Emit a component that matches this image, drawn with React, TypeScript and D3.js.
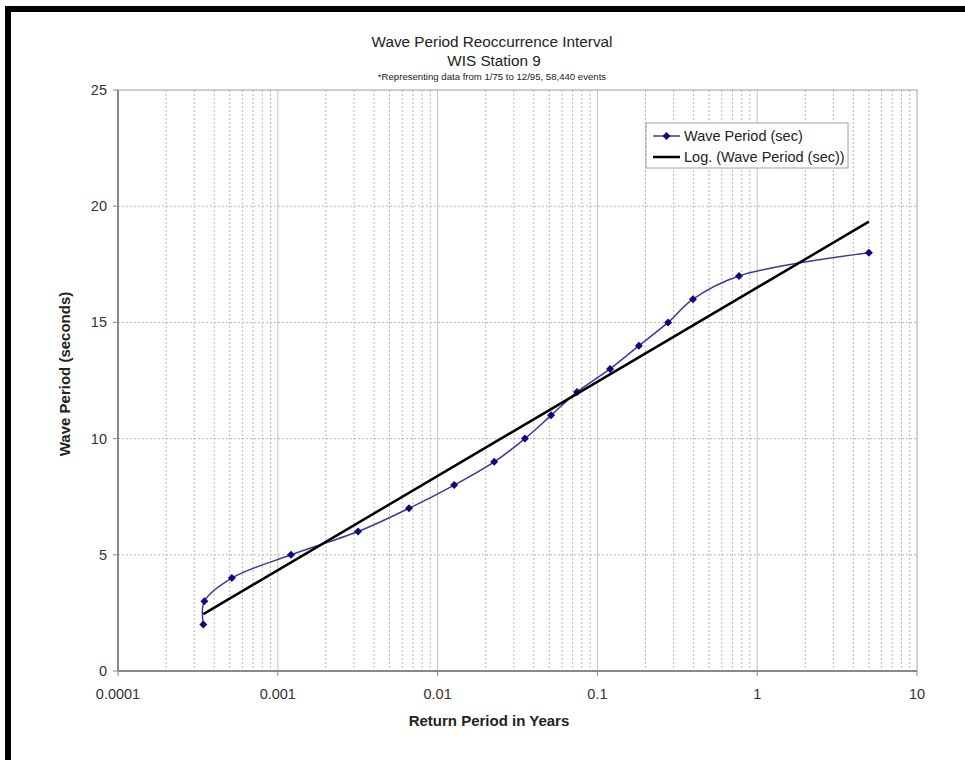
import React from "react";
import * as d3 from "d3";

const returnPeriods = [0.000342, 0.000347, 0.000516, 0.00121, 0.00318, 0.00662, 0.0127, 0.0226, 0.0352, 0.0513, 0.0745, 0.12, 0.182, 0.277, 0.396, 0.769, 5.0];
const wavePeriods = [2, 3, 4, 5, 6, 7, 8, 9, 10, 11, 12, 13, 14, 15, 16, 17, 18];
const xTickValues = [0.0001, 0.001, 0.01, 0.1, 1, 10];
const xTickLabels = ["0.0001", "0.001", "0.01", "0.1", "1", "10"];
const yTickValues = [0, 5, 10, 15, 20, 25];
const titleLines = ["Wave Period Reoccurrence Interval", "WIS Station 9"];
const subtitle = "*Representing data from 1/75 to 12/95, 58,440 events";
const seriesName = "Wave Period (sec)";
const trendName = "Log. (Wave Period (sec))";

const FONT = "'Liberation Sans', Arial, sans-serif";

export default function App() {
  const W = 965, H = 760;
  const x = d3.scaleLog().domain([1e-4, 10]).range([118, 917]);
  const y = d3.scaleLinear().domain([0, 25]).range([671, 90]);

  const minor: number[] = [];
  for (let e = -4; e < 1; e++) {
    for (let k = 2; k <= 9; k++) minor.push(k * Math.pow(10, e));
  }

  const pts = returnPeriods.map((r, i) => [x(r), y(wavePeriods[i])] as [number, number]);
  const line = d3.line().curve(d3.curveCatmullRom.alpha(0.5));
  const path = line(pts) || "";

  // logarithmic trendline regression
  const L = returnPeriods.map((r) => Math.log(r));
  const mL = d3.mean(L)!;
  const mY = d3.mean(wavePeriods)!;
  let sxy = 0, sxx = 0;
  L.forEach((l, i) => { sxy += (l - mL) * (wavePeriods[i] - mY); sxx += (l - mL) * (l - mL); });
  const slope = sxy / sxx;
  const intercept = mY - slope * mL;
  const xmin = d3.min(returnPeriods)!, xmax = d3.max(returnPeriods)!;
  const trend = (r: number) => slope * Math.log(r) + intercept;

  const diamond = (cx: number, cy: number, s = 4) => `M${cx},${cy - s}L${cx + s},${cy}L${cx},${cy + s}L${cx - s},${cy}Z`;

  return (
    <svg width={W} height={H} style={{ position: "absolute", left: 0, top: 0, background: "#fff" }} fontFamily={FONT}>
      <rect x={0} y={0} width={W} height={H} fill="#fff" />
      {/* black frame */}
      <rect x={5} y={6} width={960} height={6} fill="#000" />
      <rect x={5} y={6} width={6} height={754} fill="#000" />

      {/* titles */}
      <text x={492} y={47} textAnchor="middle" fontSize={15.3} fill="#222">{titleLines[0]}</text>
      <text x={494} y={66} textAnchor="middle" fontSize={15.3} fill="#222">{titleLines[1]}</text>
      <text x={492} y={80} textAnchor="middle" fontSize={9.6} fill="#222">{subtitle}</text>

      {/* grid */}
      {minor.map((v, i) => (
        <line key={"mn" + i} x1={x(v)} x2={x(v)} y1={90} y2={671} stroke="#b8b8b8" strokeWidth={1} strokeDasharray="2,2" />
      ))}
      {yTickValues.slice(1, -1).map((v) => (
        <line key={"hy" + v} x1={118} x2={917} y1={y(v)} y2={y(v)} stroke="#b8b8b8" strokeWidth={1} strokeDasharray="2,2" />
      ))}
      {xTickValues.slice(1, -1).map((v) => (
        <line key={"mj" + v} x1={x(v)} x2={x(v)} y1={90} y2={671} stroke="#c4c4c4" strokeWidth={1} />
      ))}

      {/* plot border */}
      <rect x={118} y={90} width={799} height={581} fill="none" stroke="#a0a0a0" strokeWidth={1} />
      <line x1={118} x2={118} y1={90} y2={671} stroke="#888" strokeWidth={2} />
      <line x1={118} x2={917} y1={671} y2={671} stroke="#888" strokeWidth={2} />

      {/* ticks */}
      {xTickValues.map((v, i) => (
        <g key={"xt" + v}>
          <line x1={x(v)} x2={x(v)} y1={671} y2={676} stroke="#888" />
          <text x={x(v)} y={699} textAnchor="middle" fontSize={14.5} fill="#333">{xTickLabels[i]}</text>
        </g>
      ))}
      {yTickValues.map((v) => (
        <g key={"yt" + v}>
          <line x1={113} x2={118} y1={y(v)} y2={y(v)} stroke="#888" />
          <text x={107} y={y(v) + 5} textAnchor="end" fontSize={14.5} fill="#333">{v}</text>
        </g>
      ))}

      {/* axis titles */}
      <text x={489} y={726} textAnchor="middle" fontSize={15} fontWeight="bold" fill="#222">Return Period in Years</text>
      <text transform="translate(70,374) rotate(-90)" textAnchor="middle" fontSize={15} fontWeight="bold" fill="#222">Wave Period (seconds)</text>

      {/* series */}
      <path d={path} fill="none" stroke="#3a3a9a" strokeWidth={1.5} />
      {pts.map((p, i) => (
        <path key={"pt" + i} d={diamond(p[0], p[1])} fill="#0a0a80" />
      ))}
      <line x1={x(xmin)} y1={y(trend(xmin))} x2={x(xmax)} y2={y(trend(xmax))} stroke="#000" strokeWidth={2.5} />

      {/* legend */}
      <rect x={646} y={123} width={202} height={45} fill="#fff" stroke="#a0a0a0" strokeWidth={1} />
      <line x1={653} x2={680} y1={136} y2={136} stroke="#3a3a9a" strokeWidth={1.5} />
      <path d={diamond(666.5, 136)} fill="#0a0a80" />
      <text x={684} y={141} fontSize={14.5} fill="#222">{seriesName}</text>
      <line x1={653} x2={680} y1={157} y2={157} stroke="#000" strokeWidth={2.5} />
      <text x={684} y={162} fontSize={14.5} fill="#222">{trendName}</text>
    </svg>
  );
}
